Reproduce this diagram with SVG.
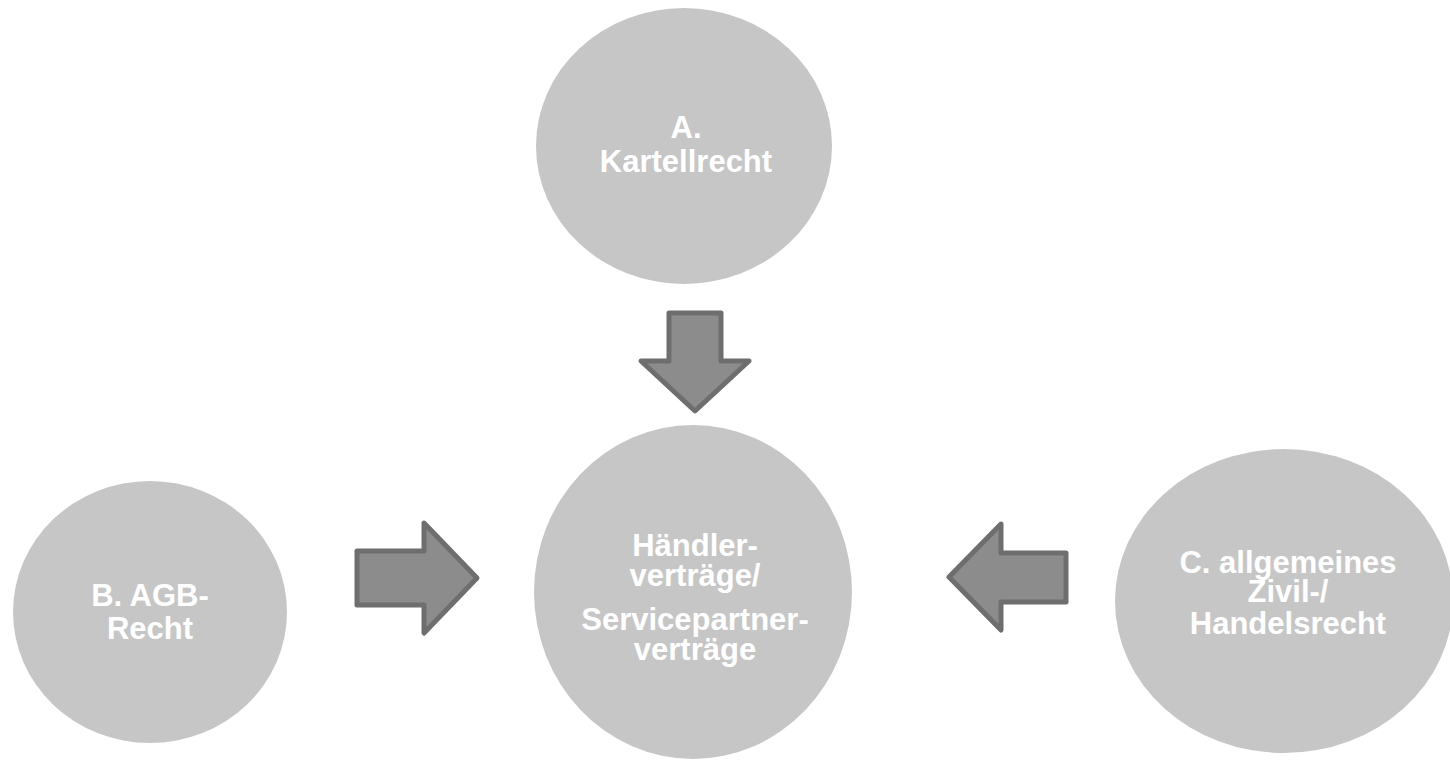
<svg xmlns="http://www.w3.org/2000/svg" width="1450" height="760" viewBox="0 0 1450 760">
<style>
.node ellipse{fill:#c6c6c6}
.node text{fill:#ffffff;font-family:"Liberation Sans",Arial,sans-serif;font-weight:bold;font-size:31px;text-anchor:middle}
.arrow{fill:#8c8c8c;stroke:#6e6e6e;stroke-width:5;stroke-linejoin:round}
</style>
<rect width="1450" height="760" fill="#ffffff"/>
<g id="node-a" class="node">
<ellipse cx="684" cy="146" rx="148" ry="138"/>
<text x="686" y="138">A.</text>
<text x="686" y="172">Kartellrecht</text>
</g>
<g id="node-center" class="node">
<ellipse cx="693" cy="592" rx="159" ry="167"/>
<text x="695" y="556">Händler-</text>
<text x="695" y="586">verträge/</text>
<text x="695" y="630">Servicepartner-</text>
<text x="695" y="660">verträge</text>
</g>
<g id="node-b" class="node">
<ellipse cx="150" cy="612" rx="137" ry="131"/>
<text x="150" y="606">B. AGB-</text>
<text x="150" y="639">Recht</text>
</g>
<g id="node-c" class="node">
<ellipse cx="1284" cy="601" rx="169" ry="152"/>
<text x="1288" y="573">C. allgemeines</text>
<text x="1288" y="602">Zivil-/</text>
<text x="1288" y="634">Handelsrecht</text>
</g>
<g id="connectors">
<path class="arrow" d="M669 313 H721 V361 H749 L695 411 L641 361 H669 Z"/>
<path class="arrow" d="M357 551 H424 V523 L477 578 L424 633 V605 H357 Z"/>
<path class="arrow" d="M1066 553 H1001 V524 L949 577 L1001 630 V602 H1066 Z"/>
</g>
</svg>
